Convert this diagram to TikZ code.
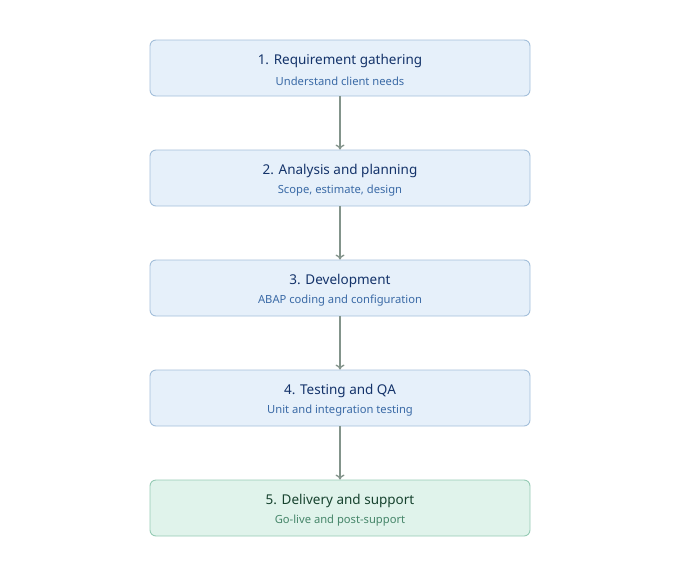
\documentclass[tikz,border=0pt]{standalone}
\usepackage{fontspec}
\setmainfont{Noto Sans}
\usetikzlibrary{arrows.meta}
\definecolor{bfill}{HTML}{E6F0FA}
\definecolor{bdraw}{HTML}{A3BFDA}
\definecolor{btitle}{HTML}{14336A}
\definecolor{bsub}{HTML}{3A6AA6}
\definecolor{gfill}{HTML}{E0F3EB}
\definecolor{gdraw}{HTML}{95CBB4}
\definecolor{gtitle}{HTML}{17432F}
\definecolor{gsub}{HTML}{46866A}
\definecolor{arr}{HTML}{83948B}
\tikzset{
  x=1pt,y=-1pt,
  stepbox/.style={draw=bdraw,fill=bfill,rounded corners=6pt,line width=0.9pt,minimum width=380pt,minimum height=56pt,inner sep=0pt},
  endbox/.style={stepbox,draw=gdraw,fill=gfill},
  ttl/.style={font=\fontsize{13.5}{16}\selectfont,text=btitle},
  sub/.style={font=\fontsize{11.2}{13}\selectfont,text=bsub},
  gttl/.style={ttl,text=gtitle},
  gsubt/.style={sub,text=gsub},
  conn/.style={draw=arr,line width=1.3pt,-{To[length=5pt,width=9pt]}}
}
\begin{document}
\begin{tikzpicture}
\useasboundingbox (0,0) rectangle (680,576);
\node[stepbox] (b1) at (340,68) {};
\node[stepbox] (b2) at (340,178) {};
\node[stepbox] (b3) at (340,288) {};
\node[stepbox] (b4) at (340,398) {};
\node[endbox] (b5) at (340,508) {};
\node[ttl] (t1) at (340,61) {1. Requirement gathering};
\node[sub] (s1) at (340,81) {Understand client needs};
\node[ttl] (t2) at (340,171) {2. Analysis and planning};
\node[sub] (s2) at (340,191) {Scope, estimate, design};
\node[ttl] (t3) at (340,281) {3. Development};
\node[sub] (s3) at (340,301) {ABAP coding and configuration};
\node[ttl] (t4) at (340,391) {4. Testing and QA};
\node[sub] (s4) at (340,411) {Unit and integration testing};
\node[gttl] (t5) at (340,501) {5. Delivery and support};
\node[gsubt] (s5) at (340,521) {Go-live and post-support};
\draw[conn] (b1) -- (b2);
\draw[conn] (b2) -- (b3);
\draw[conn] (b3) -- (b4);
\draw[conn] (b4) -- (b5);
\end{tikzpicture}
\end{document}
